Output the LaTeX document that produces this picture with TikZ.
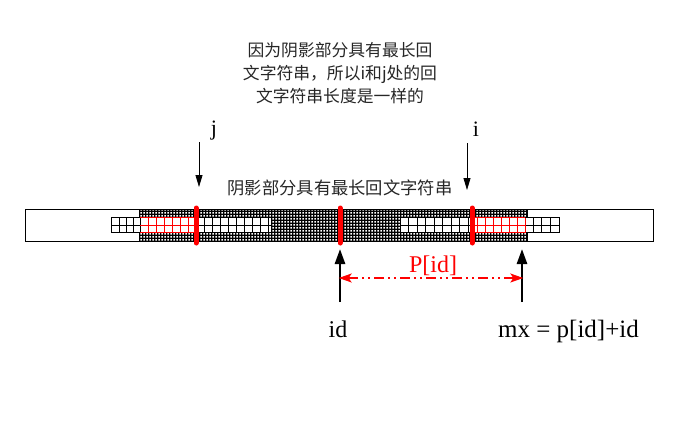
\documentclass[tikz,border=0pt]{standalone}
\usepackage{fontspec}
\setmainfont{Liberation Serif}
\newfontfamily\cjk{Noto Sans CJK SC}
\usetikzlibrary{patterns,arrows.meta}
\pgfdeclarepatternformonly{wdots}{\pgfqpoint{0pt}{0pt}}{\pgfqpoint{2.6pt}{2.6pt}}{\pgfqpoint{2.6pt}{2.6pt}}{\pgfpathrectangle{\pgfqpoint{0.5pt}{0.5pt}}{\pgfqpoint{1.6pt}{1.6pt}}\pgfusepath{fill}}
\begin{document}
\begin{tikzpicture}[x=1pt,y=-1pt,
  outerbox/.style={draw=black,line width=1pt,fill=white},
  gridbox/.style={draw=black,line width=0.8pt,fill=white},
  gline/.style={black,line width=0.8pt},
  rline/.style={red,line width=0.8pt},
  rbar/.style={red,line width=5pt,line cap=round},
  thinarrow/.style={line width=0.8pt,-{Triangle[length=12pt,width=7pt]}},
  thickarrow/.style={line width=2.6pt,-{Triangle[length=15pt,width=10pt]}},
  redarrow/.style={red,line width=1.2pt,{Stealth[length=13pt,width=9pt,inset=3pt]}-{Stealth[length=13pt,width=9pt,inset=3pt]},
    dash pattern=on 10pt off 4pt on 2pt off 4pt on 2pt off 4pt},
  cjktext/.style={font=\cjk\fontsize{16.8}{23}\selectfont,align=center,text=black!85,inner sep=0pt},
  lbl/.style={font=\fontsize{24}{28}\selectfont,inner sep=0pt}]
\useasboundingbox (0,0) rectangle (675,423);

% top explanation
\node[cjktext] (note) at (340,73) {因为阴影部分具有最长回\\文字符串，所以i和j处的回\\文字符串长度是一样的};

% j and i labels + arrows
\node[lbl,font=\fontsize{22}{26}\selectfont] (jl) at (214,131) {j};
\node[lbl,font=\fontsize{22}{26}\selectfont] (il) at (476,129) {i};
\coordinate (js) at (199,142);
\coordinate (je) at (199,187);
\coordinate (is) at (467,143);
\coordinate (ie) at (467,190);
\draw[thinarrow] (js) -- (je);
\draw[thinarrow] (is) -- (ie);

\node[cjktext,font=\cjk\fontsize{17.3}{23}\selectfont] (mid) at (340,188) {阴影部分具有最长回文字符串};

% outer strip
\draw[outerbox] (25,209) rectangle (653,241);
% shaded region
\fill[black] (139,209) rectangle (527,241);
\fill[pattern=wdots,pattern color=white] (139,209) rectangle (527,241);
\draw[line width=0.8pt] (139,209) rectangle (527,241);

% left grid
\draw[gridbox] (111,217.5) rectangle (271,232.5);
\draw[gline] (111,225.5) -- (271,225.5);
\foreach \x in {119,126,133,140,204,212,220,228,236,244,252,260,268}
  \draw[gline] (\x,217.5) -- (\x,232.5);
\foreach \y in {217.5,225.5,232.5}
  \draw[rline] (140,\y) -- (196,\y);
\foreach \x in {148,156,164,172,180,188}
  \draw[rline] (\x,217.5) -- (\x,232.5);

% right grid
\draw[gridbox] (400,217.5) rectangle (559,232.5);
\draw[gline] (400,225.5) -- (559,225.5);
\foreach \x in {408.5,417,425.5,434,442.5,451,459.5,468,533,541.5,550}
  \draw[gline] (\x,217.5) -- (\x,232.5);
\foreach \y in {217.5,225.5,232.5}
  \draw[rline] (472,\y) -- (525,\y);
\foreach \x in {477,485,493,501,509,517,525}
  \draw[rline] (\x,217.5) -- (\x,232.5);

% red bars
\draw[rbar] (196,208) -- (196,243);
\draw[rbar] (340,208) -- (340,243);
\draw[rbar] (472,208) -- (472,243);

% bottom arrows
\coordinate (ids) at (340,302);
\coordinate (ide) at (340,249);
\coordinate (mxs) at (522,302);
\coordinate (mxe) at (522,249);
\draw[thickarrow] (ids) -- (ide);
\draw[thickarrow] (mxs) -- (mxe);
\coordinate (pa) at (338.7,278);
\coordinate (pb) at (523.3,278);
\draw[redarrow] (pa) -- (pb);
\node[lbl,text=red,anchor=base] (pid) at (433,272) {P[id]};
\node[lbl,anchor=base] (idl) at (338,337) {id};
\node[lbl,anchor=base,font=\fontsize{25}{29}\selectfont] (mxl) at (568.5,337) {mx = p[id]+id};
\end{tikzpicture}
\end{document}
